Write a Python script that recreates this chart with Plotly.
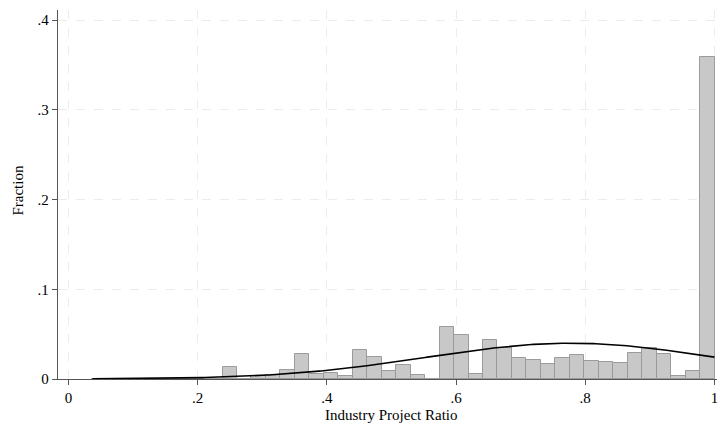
import numpy as np
import plotly.graph_objects as go

# Histogram of the industry project ratio (fraction of observations per bin)
bin_start = 0.037
bin_width = 0.0224
fractions = [
    0.0, 0.0, 0.0, 0.0, 0.0, 0.0, 0.0, 0.0, 0.0,          # bins 0-8
    0.0131, 0.0005, 0.0032, 0.0048, 0.0098, 0.0284,       # bins 9-14
    0.0054, 0.0072, 0.0035, 0.0318, 0.0247, 0.0084,       # bins 15-20
    0.0160, 0.0050, 0.0, 0.0578, 0.0493, 0.0054,          # bins 21-26
    0.0440, 0.0348, 0.0236, 0.0210, 0.0165, 0.0232,       # bins 27-32
    0.0270, 0.0206, 0.0187, 0.0173, 0.0292, 0.0348,       # bins 33-38
    0.0284, 0.0036, 0.0084, 0.3590,                       # bins 39-42
]

# Normal overlay parameters (mean and s.d. of the ratio)
norm_mean = 0.778
norm_sd = 0.224
data_min = 0.037
data_max = 1.0

x_tickvals = [0, 0.2, 0.4, 0.6, 0.8, 1.0]
x_ticktext = ["0", ".2", ".4", ".6", ".8", "1"]
y_tickvals = [0, 0.1, 0.2, 0.3, 0.4]
y_ticktext = ["0", ".1", ".2", ".3", ".4"]

centers = [bin_start + (i + 0.5) * bin_width for i in range(len(fractions))]

xs = np.linspace(data_min, data_max, 300)
dens = np.exp(-0.5 * ((xs - norm_mean) / norm_sd) ** 2) / (norm_sd * np.sqrt(2 * np.pi))
curve = dens * bin_width

serif = "Liberation Serif, Times New Roman, serif"

fig = go.Figure()
fig.add_trace(go.Bar(
    x=centers, y=fractions, width=bin_width,
    marker=dict(color="rgb(200,200,200)", line=dict(color="rgb(155,155,155)", width=1)),
    showlegend=False, hoverinfo="x+y",
))
fig.add_trace(go.Scatter(
    x=xs, y=curve, mode="lines",
    line=dict(color="black", width=1.6),
    showlegend=False, hoverinfo="skip",
))

fig.update_layout(
    width=717, height=425,
    margin=dict(l=58, r=0, t=10, b=46),
    paper_bgcolor="white", plot_bgcolor="white",
    bargap=0,
    font=dict(family=serif, size=15, color="black"),
    xaxis=dict(
        range=[-0.0161, 1.004],
        tickvals=x_tickvals, ticktext=x_ticktext,
        ticks="outside", ticklen=5, tickcolor="#555", tickwidth=1,
        showline=True, linecolor="#555", linewidth=1.3,
        showgrid=True, gridcolor="#ececec", griddash="dash", gridwidth=1,
        zeroline=False, ticklabeloverflow="allow",
        tickfont=dict(family=serif, size=15, color="black"),
    ),
    yaxis=dict(
        range=[0, 0.4114],
        tickvals=y_tickvals, ticktext=y_ticktext,
        ticks="outside", ticklen=5, tickcolor="#555", tickwidth=1,
        showline=True, linecolor="#555", linewidth=1.3,
        showgrid=True, gridcolor="#ececec", griddash="dash", gridwidth=1,
        zeroline=False,
        tickfont=dict(family=serif, size=15, color="black"),
    ),
    annotations=[
        dict(text="Industry Project Ratio", xref="x", yref="paper",
             x=0.5, y=-0.097, yanchor="middle", xanchor="center",
             showarrow=False, font=dict(family=serif, size=15, color="black")),
        dict(text="Fraction", xref="paper", yref="paper",
             x=-0.061, y=0.51, textangle=-90, xanchor="center", yanchor="middle",
             showarrow=False,
             font=dict(family=serif, size=15, color="black")),
    ],
)

fig.write_html("out.html")
